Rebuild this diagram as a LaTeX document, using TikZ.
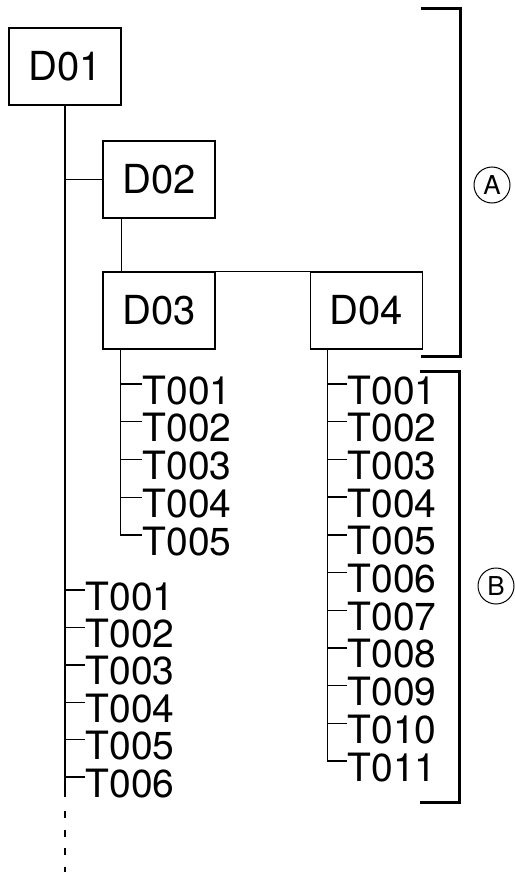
\documentclass[tikz,border=0pt]{standalone}
\usepackage{fontspec}
\setmainfont{TeX Gyre Heros}
\usetikzlibrary{positioning}

\begin{document}
\begin{tikzpicture}[x=1pt,y=-1pt,line width=1.4pt,
  dbox/.style={draw,minimum width=112pt,minimum height=77pt,inner sep=0pt,
    font=\fontsize{40}{42}\selectfont},
  titem/.style={anchor=west,inner sep=0pt,text height=40pt,text depth=0pt,
    font=\fontsize{39}{40}\selectfont},
  bracket/.style={line width=3pt},
  circlabel/.style={draw,circle,minimum size=36pt,inner sep=0pt,line width=1pt,
    font=\fontsize{26}{26}\selectfont}]

  \useasboundingbox (0,0) rectangle (514,872);

  % boxes
  \node[dbox] (d01) at (65,66.5) {D01};
  \node[dbox] (d02) at (159,179.5) {D02};
  \node[dbox] (d03) at (159,310.5) {D03};
  \node[dbox,right=94pt of d03] (d04) {D04};

  % links between boxes
  \draw (d01.south |- d02.west) -- (d02.west);
  \draw ([xshift=19pt]d02.south west) |- (d04.north west);

  % items of d03
  \coordinate (d03trunk) at ([xshift=18pt]d03.south west);
  \foreach \i in {1,...,5}
    \node[titem] (d03t\i) at (142,{384+37.75*(\i-1)}) {T00\i};
  \foreach \i in {1,...,4}
    \draw (d03t\i.west -| d03trunk) -- (d03t\i.west);
  \draw (d03trunk) |- (d03t5.west);

  % items of d04
  \coordinate (d04trunk) at ([xshift=18pt]d04.south west);
  \foreach \i in {1,...,11}
    \node[titem] (d04t\i) at (347,{384+37.7*(\i-1)}) {T0\ifnum\i<10 0\fi\i};
  \foreach \i in {1,...,10}
    \draw (d04t\i.west -| d04trunk) -- (d04t\i.west);
  \draw (d04trunk) |- (d04t11.west);

  % items of d01
  \foreach \i in {1,...,6}
    \node[titem] (d01t\i) at (85,{590+37.4*(\i-1)}) {T00\i};
  \foreach \i in {1,...,6}
    \draw (d01t\i.west -| d01.south) -- (d01t\i.west);
  \coordinate (d01end) at (65,797);
  \coordinate (d01dots) at (65,872);
  \draw (d01.south) -- (d01end);
  \draw[dash pattern=on 7pt off 11.5pt] ([yshift=-14pt]d01end) -- (d01dots);

  % brackets
  \draw[bracket] (421,9) -- (460,9) -- (460,356) -- (421,356);
  \draw[bracket] (420,371) -- (459,371) -- (459,802) -- (420,802);
  \node[circlabel] (lbla) at (492,185) {A};
  \node[circlabel] (lblb) at (496,586) {B};

\end{tikzpicture}
\end{document}
